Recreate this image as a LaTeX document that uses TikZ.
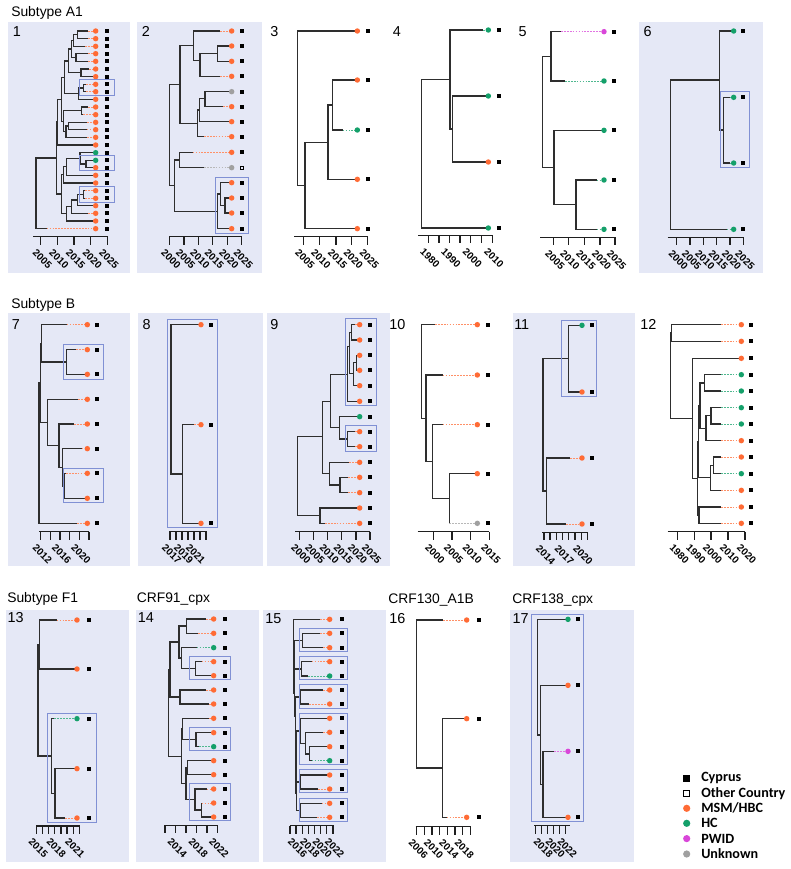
\documentclass[tikz,border=0pt]{standalone}
\usepackage{fontspec}
\setmainfont{Liberation Sans}
\newfontfamily\legfont{Carlito}
\definecolor{cO}{HTML}{FF6B35}
\definecolor{cG}{HTML}{14A06A}
\definecolor{cM}{HTML}{D946D9}
\definecolor{cU}{HTML}{A0A0A0}
\definecolor{bgc}{HTML}{E5E8F6}
\definecolor{bxc}{HTML}{8090D4}
\tikzset{
 tb/.style={line width=1.1pt, draw=black!82},
 dl/.style={draw=#1!75, line width=0.7pt, dash pattern=on 1.3pt off 0.9pt},
 ax/.style={line width=1.1pt, draw=black!88},
 bx/.style={draw=bxc, line width=0.7pt},
 tl/.style={rotate=-45, anchor=north west, inner sep=0pt, font=\bfseries\fontsize{7.5}{8}\selectfont},
 pn/.style={anchor=west, inner sep=0pt, font=\fontsize{10.8}{12}\selectfont},
 ttl/.style={anchor=west, inner sep=0pt, font=\fontsize{10.4}{12}\selectfont},
 lg/.style={anchor=west, inner sep=0pt, font=\legfont\bfseries\fontsize{10.6}{12}\selectfont},
}
\newcommand\ED[4]{\draw[tb] (#1,#2) |- (#3,#4);}
\newcommand\TP[5]{\draw[tb] (#1,#2) |- (#3,#4);\draw[dl=#5] (#3,#4) -- (\dotX,#4);\fill[#5] (\dotX,#4) circle (2.05pt);\fill[black] (\sqX,#4) +(-1.45pt,-1.45pt) rectangle +(1.45pt,1.45pt);}
\newcommand\TQ[5]{\draw[tb] (#1,#2) |- (#3,#4);\draw[dl=#5] (#3,#4) -- (\dotX,#4);\fill[#5] (\dotX,#4) circle (2.05pt);\draw[black,line width=0.5pt] (\sqX,#4) +(-1.3pt,-1.3pt) rectangle +(1.3pt,1.3pt);}
\newcommand\AX[4]{\draw[ax] (#2,#1) -- (#3,#1);\foreach \t in {#4} \draw[ax] (\t,#1) -- (\t,#1+24);}
\newcommand\AL[2]{\foreach \a/\b in {#2} \node[tl] at (\a-11,#1+35) {\b};}
\begin{document}
\begin{tikzpicture}[x=0.75pt,y=-0.75pt]
\useasboundingbox (0,0) rectangle (791,869);
\fill[white] (0,0) rectangle (791,869);
% backgrounds
\fill[bgc] (8.3,21.7) rectangle (130,273.3);
\fill[bgc] (137.3,21.7) rectangle (261.7,273.3);
\fill[bgc] (639.3,21.7) rectangle (763.3,273.3);
\fill[bgc] (8.3,313.3) rectangle (130,566);
\fill[bgc] (137.7,313.3) rectangle (262.5,566);
\fill[bgc] (266.7,313.3) rectangle (390,566);
\fill[bgc] (513.3,313.3) rectangle (635,566);
\fill[bgc] (6,610) rectangle (129.3,861.7);
\fill[bgc] (135.7,610) rectangle (259,861.7);
\fill[bgc] (263.3,610) rectangle (385.7,861.7);
\fill[bgc] (510,610) rectangle (634,861.7);
% titles
\node[ttl] (tA) at (11,13) {Subtype A1};
\node[ttl] (tB) at (11,305) {Subtype B};
\node[ttl] (tF) at (7,599) {Subtype F1};
\node[ttl] (t91) at (136.5,599) {CRF91\_cpx};
\node[ttl] (t130) at (388,600) {CRF130\_A1B};
\node[ttl] (t138) at (512,600) {CRF138\_cpx};
% panel numbers
\node[pn] (p1) at (12.7,31.7) {1};
\node[pn] (p2) at (141.7,31.7) {2};
\node[pn] (p3) at (270,31.7) {3};
\node[pn] (p4) at (392.7,31.7) {4};
\node[pn] (p5) at (518.3,31.7) {5};
\node[pn] (p6) at (643.3,31.7) {6};
\node[pn] (p7) at (11.7,324.3) {7};
\node[pn] (p8) at (142.3,324.3) {8};
\node[pn] (p9) at (270,324.3) {9};
\node[pn] (p10) at (389,324.3) {10};
\node[pn] (p11) at (514,324.3) {11};
\node[pn] (p12) at (640,324.3) {12};
\node[pn] (p13) at (7.3,617.3) {13};
\node[pn] (p14) at (137.7,617.3) {14};
\node[pn] (p15) at (265,618.3) {15};
\node[pn] (p16) at (389,618.3) {16};
\node[pn] (p17) at (512.3,618.3) {17};
% ---------- Panel 1
\begin{scope}[shift={(0,0)},x=0.25pt,y=-0.25pt]
\def\dotX{287}\def\sqX{322}
\TP{232}{104}{265}{93}{cO}
\TP{232}{104}{265}{116}{cO}
\ED{220}{122}{232}{104}
\TP{220}{122}{255}{139}{cO}
\TP{228}{172}{265}{161}{cO}
\TP{228}{172}{265}{184}{cO}
\ED{214}{147}{220}{122}
\ED{214}{147}{228}{172}
\TP{243}{218}{268}{207}{cO}
\TP{243}{218}{287}{230}{cO}
\ED{206}{183}{214}{147}
\ED{206}{183}{243}{218}
\TP{250}{264}{258}{253}{cO}
\TP{250}{264}{258}{275}{cO}
\ED{235}{281}{250}{264}
\TP{235}{281}{287}{298}{cO}
\ED{194}{232}{206}{183}
\ED{194}{232}{235}{281}
\TP{245}{332}{265}{321}{cO}
\TP{245}{332}{250}{344}{cO}
\TP{205}{378}{262}{367}{cO}
\TP{205}{378}{260}{389}{cO}
\ED{198}{395}{205}{378}
\TP{198}{395}{262}{412}{cO}
\ED{190}{364}{245}{332}
\ED{190}{364}{198}{395}
\ED{185}{298}{194}{232}
\ED{185}{298}{190}{364}
\ED{172}{366}{185}{298}
\TP{172}{366}{287}{435}{cO}
\TP{258}{492}{287}{481}{cG}
\TP{258}{492}{287}{503}{cO}
\TP{240}{475}{287}{458}{cG}
\ED{240}{475}{258}{492}
\ED{200}{500}{240}{475}
\TP{200}{500}{287}{526}{cO}
\TP{250}{583}{255}{572}{cO}
\TP{250}{583}{255}{595}{cO}
\ED{232}{600}{250}{583}
\TP{232}{600}{287}{617}{cO}
\ED{215}{620}{232}{600}
\TP{215}{620}{265}{640}{cO}
\ED{200}{641}{215}{620}
\TP{200}{641}{287}{663}{cO}
\ED{190}{524}{200}{500}
\TP{190}{524}{287}{549}{cO}
\ED{184}{582}{190}{524}
\ED{184}{582}{200}{641}
\ED{170}{474}{172}{366}
\ED{170}{474}{184}{582}
\ED{108}{580}{170}{474}
\TP{108}{580}{140}{686}{cO}
\draw[bx] (237,238) rectangle (342,285);
\draw[bx] (237,465) rectangle (342,512);
\draw[bx] (237,558) rectangle (342,606);
\AX{710}{100}{325}{122,172,222,272,322}
\AL{710}{122/2005,172/2010,222/2015,272/2020,322/2025}
\end{scope}
% ---------- Panel 2
\begin{scope}[shift={(130,0)},x=0.25pt,y=-0.25pt]
\def\dotX{305}\def\sqX{336}
\TP{262}{161}{305}{138}{cO}
\TP{262}{161}{305}{184}{cO}
\ED{210}{182}{262}{161}
\TP{210}{182}{270}{229}{cO}
\TP{190}{137}{270}{93}{cO}
\ED{190}{137}{210}{182}
\TP{225}{296}{305}{275}{cU}
\TP{225}{296}{280}{320}{cO}
\ED{208}{330}{225}{296}
\TP{208}{330}{305}{365}{cO}
\ED{203}{370}{208}{330}
\TP{203}{370}{222}{410}{cO}
\ED{150}{254}{190}{137}
\ED{150}{254}{203}{370}
\TP{148}{480}{188}{457}{cO}
\TQ{148}{480}{222}{503}{cU}
\TP{285}{616}{305}{594}{cO}
\TP{285}{616}{305}{639}{cO}
\TP{272}{582}{305}{548}{cO}
\ED{272}{582}{285}{616}
\ED{262}{634}{272}{582}
\TP{262}{634}{305}{686}{cO}
\ED{133}{557}{148}{480}
\ED{133}{557}{262}{634}
\ED{118}{405}{150}{254}
\ED{118}{405}{133}{557}
\draw[bx] (255,533) rectangle (355,700);
\AX{710}{118}{336}{118,162,205,248,292,335}
\AL{710}{118/2000,162/2005,205/2010,248/2015,292/2020,335/2025}
\end{scope}
% ---------- Panels 3, 4
\begin{scope}[shift={(260,0)},x=0.25pt,y=-0.25pt]
\def\dotX{292}\def\sqX{325}
\TP{218}{315}{292}{240}{cO}
\TP{218}{315}{248}{390}{cG}
\ED{204}{427}{218}{315}
\TP{204}{427}{292}{538}{cO}
\ED{135}{557}{204}{427}
\TP{135}{557}{292}{686}{cO}
\TP{113}{325}{292}{93}{cO}
\ED{113}{325}{135}{557}
\AX{710}{103}{323}{130,178,228,275,323}
\AL{710}{130/2005,178/2010,228/2015,275/2020,323/2025}
\def\dotX{685}\def\sqX{718}
\TP{578}{387}{685}{288}{cG}
\TP{578}{387}{685}{486}{cO}
\TP{570}{238}{670}{90}{cG}
\ED{570}{238}{578}{387}
\ED{484}{461}{570}{238}
\TP{484}{461}{685}{684}{cG}
\AX{706}{475}{697}{505,537,568,600,632,664,697}
\AL{706}{505/1980,568/1990,632/2000,697/2010}
\end{scope}
% ---------- Panels 5, 6
\begin{scope}[shift={(525,0)},x=0.25pt,y=-0.25pt]
\def\dotX{237}\def\sqX{268}
\TP{78}{169}{108}{95}{cM}
\TP{78}{169}{120}{243}{cG}
\TP{153}{614}{215}{540}{cG}
\TP{153}{614}{215}{688}{cG}
\TP{87}{502}{237}{391}{cG}
\ED{87}{502}{153}{614}
\ED{53}{336}{78}{169}
\ED{53}{336}{87}{502}
\AX{712}{45}{270}{85,130,178,225,270}
\AL{712}{85/2005,130/2010,178/2015,225/2020,270/2025}
\def\dotX{626}\def\sqX{655}
\TP{596}{390}{615}{292}{cG}
\TP{596}{390}{615}{489}{cG}
\TP{583}{240}{626}{93}{cG}
\ED{583}{240}{596}{390}
\ED{436}{464}{583}{240}
\TP{436}{464}{605}{688}{cG}
\draw[bx] (587,273) rectangle (673,503);
\AX{712}{428}{655}{455,495,535,575,615,655}
\AL{712}{455/2000,495/2005,535/2010,575/2015,615/2020,655/2025}
\end{scope}
% ---------- Panels 7, 8
\begin{scope}[shift={(0,290)},x=0.25pt,y=-0.25pt]
\def\dotX{262}\def\sqX{291}
\TP{200}{216}{228}{179}{cO}
\TP{200}{216}{262}{253}{cO}
\TP{125}{160}{200}{104}{cO}
\ED{125}{160}{200}{216}
\TP{192}{588}{198}{550}{cO}
\TP{192}{588}{262}{625}{cO}
\TP{188}{532}{245}{476}{cO}
\ED{188}{532}{192}{588}
\TP{177}{467}{222}{402}{cO}
\ED{177}{467}{188}{532}
\TP{143}{397}{235}{328}{cO}
\ED{143}{397}{177}{467}
\ED{121}{278}{125}{160}
\ED{121}{278}{143}{397}
\ED{117}{489}{121}{278}
\TP{117}{489}{232}{700}{cO}
\draw[bx] (189,162) rectangle (311,268);
\draw[bx] (189,536) rectangle (311,637);
\AX{725}{118}{268}{122,151,180,209,238,267}
\AL{725}{122/2012,180/2016,238/2020}
\def\dotX{603}\def\sqX{633}
\TP{548}{552}{583}{404}{cO}
\TP{548}{552}{603}{700}{cO}
\TP{513}{328}{603}{104}{cO}
\ED{513}{328}{548}{552}
\draw[bx] (503,88) rectangle (653,712);
\AX{725}{508}{620}{510,528,546,564,582,600,618}
\AL{725}{510/2017,546/2019,582/2021}
\end{scope}
% ---------- Panels 9, 10
\begin{scope}[shift={(260,290)},x=0.25pt,y=-0.25pt]
\def\dotX{299}\def\sqX{330}
\TP{275}{127}{285}{104}{cO}
\TP{275}{127}{299}{150}{cO}
\TP{290}{218}{299}{196}{cO}
\TP{290}{218}{299}{241}{cO}
\ED{280}{250}{290}{218}
\TP{280}{250}{299}{287}{cO}
\ED{268}{170}{275}{127}
\ED{268}{170}{280}{250}
\ED{262}{254}{268}{170}
\TP{262}{254}{299}{334}{cO}
\TP{262}{447}{285}{425}{cO}
\TP{262}{447}{285}{470}{cO}
\TP{238}{413}{299}{380}{cG}
\ED{238}{413}{262}{447}
\ED{212}{334}{262}{254}
\ED{212}{334}{238}{413}
\TP{240}{585}{265}{562}{cO}
\TP{240}{585}{265}{608}{cO}
\TP{208}{550}{268}{517}{cO}
\ED{208}{550}{240}{585}
\ED{187}{440}{212}{334}
\ED{187}{440}{208}{550}
\TP{180}{677}{299}{654}{cO}
\TP{180}{677}{195}{700}{cO}
\ED{113}{560}{187}{440}
\ED{113}{560}{180}{677}
\draw[bx] (257,85) rectangle (350,347);
\draw[bx] (257,407) rectangle (350,483);
\AX{725}{105}{330}{118,160,203,245,288,330}
\AL{725}{118/2000,160/2005,203/2010,245/2015,288/2020,330/2025}
\def\dotX{652}\def\sqX{685}
\TP{568}{626}{652}{551}{cO}
\TP{568}{626}{568}{700}{cU}
\TP{518}{515}{548}{404}{cO}
\ED{518}{515}{568}{626}
\TP{498}{385}{548}{255}{cO}
\ED{498}{385}{518}{515}
\TP{485}{245}{525}{104}{cO}
\ED{485}{245}{498}{385}
\AX{725}{473}{688}{520,576,632,688}
\AL{725}{520/2000,576/2005,632/2010,688/2015}
\end{scope}
% ---------- Panels 11, 12
\begin{scope}[shift={(525,290)},x=0.25pt,y=-0.25pt]
\def\dotX{171}\def\sqX{200}
\TP{130}{206}{171}{106}{cG}
\TP{130}{206}{171}{306}{cO}
\TP{65}{603}{135}{504}{cO}
\TP{65}{603}{123}{702}{cO}
\ED{54}{405}{130}{206}
\ED{54}{405}{65}{603}
\draw[bx] (108,90) rectangle (215,320);
\AX{727}{52}{188}{57,75,94,113,131,150,169,188}
\AL{727}{57/2014,113/2017,169/2020}
\def\dotX{649}\def\sqX{678}
\TP{440}{129}{588}{104}{cO}
\TP{440}{129}{588}{154}{cO}
\TP{538}{279}{588}{254}{cG}
\TP{538}{279}{588}{303}{cG}
\TP{558}{377}{588}{353}{cG}
\TP{558}{377}{588}{402}{cG}
\ED{543}{415}{558}{377}
\TP{543}{415}{588}{452}{cO}
\TP{566}{526}{588}{501}{cO}
\TP{566}{526}{588}{551}{cG}
\ED{557}{563}{566}{526}
\TP{557}{563}{588}{601}{cO}
\TP{522}{675}{588}{651}{cO}
\TP{522}{675}{588}{700}{cO}
\ED{525}{347}{538}{279}
\ED{525}{347}{543}{415}
\ED{520}{455}{525}{347}
\ED{520}{455}{557}{563}
\ED{518}{565}{520}{455}
\ED{518}{565}{522}{675}
\TP{502}{385}{649}{205}{cO}
\ED{502}{385}{518}{565}
\ED{436}{257}{440}{129}
\ED{436}{257}{502}{385}
\AX{725}{428}{660}{458,508,558,609,660}
\AL{725}{458/1980,508/1990,558/2000,609/2010,660/2020}
\end{scope}
% ---------- Panels 13, 14
\begin{scope}[shift={(0,560)},x=0.25pt,y=-0.25pt]
\def\dotX{231}\def\sqX{268}
\TP{165}{700}{231}{626}{cO}
\TP{165}{700}{195}{774}{cO}
\TP{155}{588}{163}{476}{cG}
\ED{155}{588}{165}{700}
\TP{118}{254}{170}{180}{cO}
\TP{118}{254}{231}{327}{cO}
\ED{114}{421}{118}{254}
\ED{114}{421}{155}{588}
\draw[bx] (142,459) rectangle (288,786);
\AX{798}{108}{240}{110,128,146,164,183,201,220,238}
\AL{798}{110/2015,164/2018,220/2021}
\def\dotX{641}\def\sqX{676}
\TP{560}{198}{618}{177}{cO}
\TP{560}{198}{595}{220}{cO}
\TP{587}{326}{605}{305}{cO}
\TP{587}{326}{641}{347}{cO}
\TP{545}{294}{590}{263}{cG}
\ED{545}{294}{587}{326}
\ED{537}{246}{560}{198}
\ED{537}{246}{545}{294}
\TP{540}{411}{618}{390}{cO}
\TP{540}{411}{628}{432}{cO}
\ED{510}{330}{537}{246}
\ED{510}{330}{540}{411}
\TP{588}{539}{641}{518}{cO}
\TP{588}{539}{598}{560}{cG}
\TP{548}{507}{628}{475}{cO}
\ED{548}{507}{588}{539}
\TP{562}{623}{641}{602}{cO}
\TP{562}{623}{641}{644}{cO}
\TP{605}{750}{605}{729}{cO}
\TP{605}{750}{641}{771}{cO}
\TP{585}{719}{620}{687}{cO}
\ED{585}{719}{605}{750}
\ED{558}{670}{562}{623}
\ED{558}{670}{585}{719}
\ED{545}{590}{548}{507}
\ED{545}{590}{558}{670}
\ED{505}{460}{510}{330}
\ED{505}{460}{545}{590}
\draw[bx] (567,290) rectangle (692,357);
\draw[bx] (567,502) rectangle (692,571);
\draw[bx] (567,669) rectangle (692,782);
\AX{796}{495}{652}{495,527,558,590,621,652}
\AL{796}{527/2014,590/2018,652/2022}
\end{scope}
% ---------- Panels 15, 16
\begin{scope}[shift={(260,560)},x=0.25pt,y=-0.25pt]
\def\dotX{209}\def\sqX{246}
\TP{127}{242}{180}{220}{cO}
\TP{127}{242}{190}{263}{cO}
\TP{125}{327}{155}{305}{cO}
\TP{125}{327}{145}{348}{cG}
\TP{122}{411}{190}{390}{cO}
\TP{122}{411}{148}{432}{cO}
\TP{148}{582}{209}{560}{cO}
\TP{148}{582}{155}{602}{cG}
\TP{137}{551}{190}{517}{cO}
\ED{137}{551}{148}{582}
\TP{122}{513}{209}{475}{cO}
\ED{122}{513}{137}{551}
\TP{122}{666}{209}{645}{cO}
\TP{122}{666}{175}{687}{cO}
\TP{120}{751}{185}{730}{cO}
\TP{120}{751}{172}{772}{cO}
\ED{110}{700}{122}{666}
\ED{110}{700}{120}{751}
\ED{108}{600}{122}{513}
\ED{108}{600}{110}{700}
\ED{106}{470}{122}{411}
\ED{106}{470}{108}{600}
\ED{104}{400}{125}{327}
\ED{104}{400}{106}{470}
\ED{102}{320}{127}{242}
\ED{102}{320}{104}{400}
\TP{100}{250}{180}{178}{cO}
\ED{100}{250}{102}{320}
\draw[bx] (117,204) rectangle (262,274);
\draw[bx] (117,289) rectangle (262,358);
\draw[bx] (117,373) rectangle (262,444);
\draw[bx] (117,459) rectangle (262,613);
\draw[bx] (117,628) rectangle (262,698);
\draw[bx] (117,714) rectangle (262,784);
\AX{797}{90}{222}{90,108,127,145,164,182,200,219}
\AL{797}{108/2016,145/2018,182/2020,219/2022}
\def\dotX{620}\def\sqX{657}
\TP{548}{624}{620}{476}{cO}
\TP{548}{624}{560}{772}{cO}
\TP{470}{402}{550}{180}{cO}
\ED{470}{402}{548}{624}
\AX{800}{467}{632}{470,493,516,539,562,585,608,632}
\AL{800}{470/2006,516/2010,562/2014,608/2018}
\end{scope}
% ---------- Panel 17
\begin{scope}[shift={(525,560)},x=0.25pt,y=-0.25pt]
\def\dotX{129}\def\sqX{159}
\TP{54}{673}{88}{574}{cM}
\TP{54}{673}{129}{772}{cO}
\TP{46}{525}{129}{376}{cO}
\ED{46}{525}{54}{673}
\TP{37}{350}{129}{178}{cG}
\ED{37}{350}{46}{525}
\draw[bx] (20,162) rectangle (176,785);
\AX{797}{27}{135}{32,50,68,86,104,122}
\AL{797}{50/2018,86/2020,122/2022}
\end{scope}
% ---------- Legend
\fill[black] (683.4,775) rectangle (690,781.6);
\draw[black,line width=0.6pt] (683.6,790.2) rectangle (689.8,796.4);
\fill[cO] (686.7,808.3) circle (2.7pt);
\fill[cG] (686.7,823.3) circle (2.7pt);
\fill[cM] (686.7,838.6) circle (2.7pt);
\fill[cU] (686.7,854) circle (2.7pt);
\node[lg] (l1) at (701,778.3) {Cyprus};
\node[lg] (l2) at (701,793.3) {Other Country};
\node[lg] (l3) at (701,808.3) {MSM/HBC};
\node[lg] (l4) at (701,823.3) {HC};
\node[lg] (l5) at (701,838.6) {PWID};
\node[lg] (l6) at (701,854) {Unknown};
\end{tikzpicture}
\end{document}
